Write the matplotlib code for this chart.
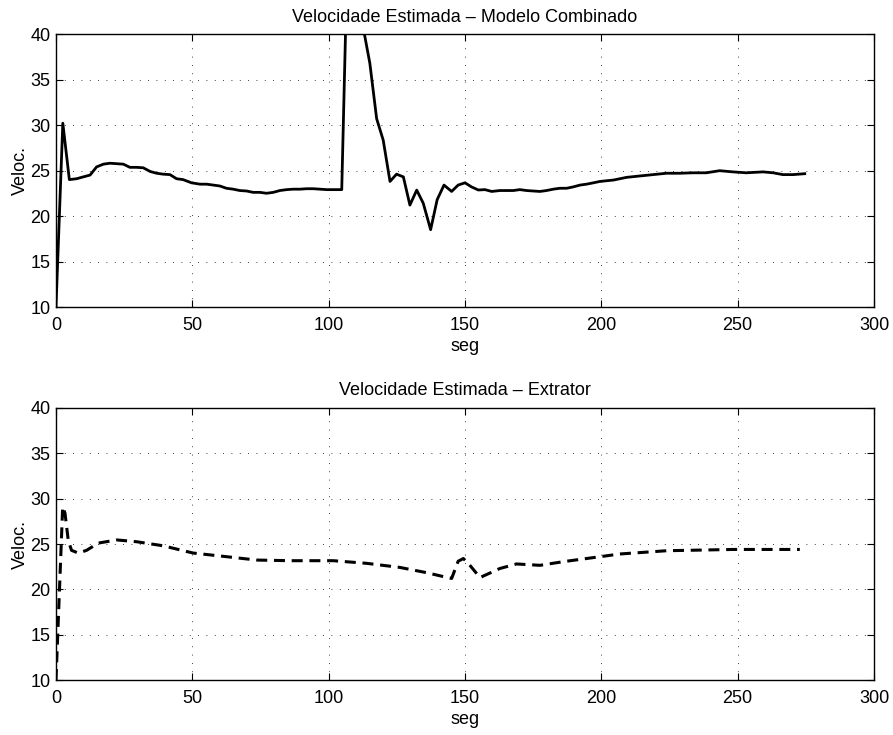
import matplotlib
matplotlib.use('Agg')
import matplotlib.pyplot as plt

plt.rcParams['font.family'] = ['Liberation Sans', 'DejaVu Sans']
plt.rcParams['font.size'] = 13

# Velocidade estimada - modelo combinado (leitura do grafico)
t_comb = [0, 2.5, 4.9, 7.6, 10, 12.5, 14.9, 17.4, 19.8, 24.7, 27.1, 29.6, 32, 34.5,
          36.9, 39.3, 41.8, 44.2, 46.6, 49.7, 52.8, 55.2, 57.7, 60.1, 62.5, 65,
          67.4, 69.9, 72.3, 74.8, 77.2, 79.7, 82.1, 84.6, 87, 89.5, 91.9, 94.4,
          96.8, 99.3, 101.7, 104.8, 106.5, 110, 112.8, 115.1, 117.6, 120, 122.5,
          124.9, 127.4, 129.8, 132.3, 134.7, 137.4, 139.8, 142.3, 145.1, 147.5,
          150, 152.4, 154.9, 157.3, 159.8, 162.8, 165.3, 167.7, 170.1, 172.6,
          175, 177.5, 179.9, 182.4, 184.8, 187.3, 189.7, 192.2, 194.6, 197.1,
          199.5, 204.4, 209.3, 214.1, 219, 223.9, 228.8, 233.6, 238.5, 243.4,
          248.3, 253.2, 259.3, 263, 266.6, 270.3, 274.6]
v_comb = [10, 30.2, 24.0, 24.1, 24.3, 24.5, 25.4, 25.7, 25.8, 25.7, 25.35, 25.35,
          25.3, 24.9, 24.7, 24.6, 24.55, 24.1, 24.0, 23.65, 23.5, 23.5, 23.4, 23.3,
          23.05, 22.95, 22.8, 22.75, 22.6, 22.6, 22.5, 22.6, 22.8, 22.9, 22.95,
          22.95, 23.0, 23.0, 22.95, 22.9, 22.9, 22.9, 44.0, 45.0, 40.5, 36.8, 30.7,
          28.35, 23.8, 24.6, 24.3, 21.2, 22.85, 21.4, 18.5, 21.8, 23.4, 22.7, 23.4,
          23.65, 23.2, 22.86, 22.9, 22.7, 22.8, 22.8, 22.8, 22.9, 22.8, 22.75,
          22.7, 22.8, 22.95, 23.05, 23.05, 23.2, 23.4, 23.5, 23.65, 23.8, 23.95,
          24.25, 24.4, 24.55, 24.7, 24.7, 24.75, 24.75, 24.98, 24.85, 24.75,
          24.85, 24.75, 24.55, 24.55, 24.65]

# Velocidade estimada - extrator
t_ext = [0, 2.45, 3.3, 4.5, 5.7, 8.2, 11.2, 15.5, 22.3, 29.6, 39.4, 46.7, 50.4,
         62.6, 73.6, 85.8, 101.7, 113.9, 126.1, 135.9, 143.3, 145.1, 147.5, 149.4,
         151.2, 155.5, 162.8, 168.9, 177.5, 186, 199.5, 206.8, 224, 248.4, 272.8]
v_ext = [10, 29.1, 28.4, 25.4, 24.3, 24.0, 24.3, 25.1, 25.45, 25.25, 24.8, 24.26,
         24.0, 23.6, 23.23, 23.16, 23.16, 22.87, 22.42, 21.84, 21.32, 21.2, 23.1,
         23.4, 22.87, 21.3, 22.3, 22.8, 22.65, 23.05, 23.6, 23.9, 24.26, 24.4, 24.4]

titles = ['Velocidade Estimada \u2013 Modelo Combinado', 'Velocidade Estimada \u2013 Extrator']

fig = plt.figure(figsize=(8.93, 7.35), dpi=100)
ax1 = fig.add_axes([0.0627, 0.5823, 0.9160, 0.3714])
ax2 = fig.add_axes([0.0627, 0.0748, 0.9160, 0.3701])

ax1.plot(t_comb, v_comb, color='black', lw=2)
ax2.plot(t_ext, v_ext, color='black', lw=2.2, linestyle=(0, (3.6, 2.2)))

for ax, title in zip([ax1, ax2], titles):
    ax.set_xlim(0, 300)
    ax.set_ylim(10, 40)
    ax.set_xticks(range(0, 301, 50))
    ax.set_yticks(range(10, 41, 5))
    ax.grid(True, linestyle=(0, (1, 9)), color='black', linewidth=0.6)
    ax.tick_params(direction='in', top=True, right=True, length=5, width=0.8,
                   labelsize=13)
    ax.tick_params(axis='x', pad=7)
    ax.tick_params(axis='y', pad=4)
    for s in ax.spines.values():
        s.set_linewidth(1.0)
    ax.set_xlabel('seg', fontsize=13, labelpad=3)
    ax.set_ylabel('Veloc.', fontsize=13, labelpad=1)
    ax.set_title(title, fontsize=13, pad=9)

fig.savefig('out.png', dpi=100)
